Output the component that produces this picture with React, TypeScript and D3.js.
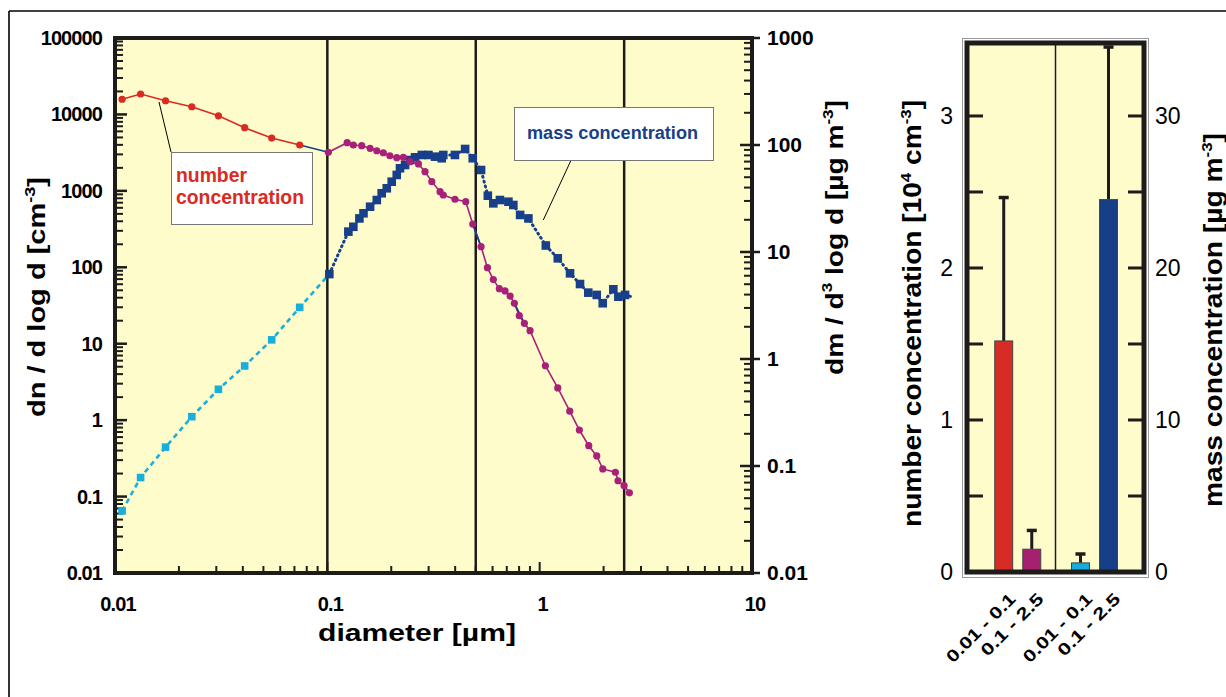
import React from 'react';
import * as d3 from 'd3';

// ---------- data ----------
const redD = [0.0108, 0.0132, 0.0173, 0.023, 0.0307, 0.0408, 0.0547, 0.0741];
const redN = [15800, 18500, 15100, 12600, 9600, 6700, 4900, 3980];

const magD = [0.1011, 0.124, 0.1326, 0.1452, 0.159, 0.171, 0.1835, 0.197, 0.2123, 0.228, 0.2453, 0.2685, 0.2885, 0.3105, 0.3396, 0.3516, 0.399, 0.4487, 0.484, 0.5297, 0.5675, 0.605, 0.6457, 0.687, 0.726, 0.76, 0.8017, 0.8472, 0.9014, 1.064, 1.217, 1.386, 1.538, 1.703, 1.857, 1.982, 2.273, 2.339, 2.498, 2.646];
const magN = [3195, 4270, 3980, 3900, 3600, 3350, 3150, 2880, 2720, 2750, 2410, 2250, 1780, 1320, 975, 883, 776, 721, 368, 186, 98.8, 69, 52.5, 49, 42, 33.8, 23.3, 18.5, 14.8, 5.15, 2.64, 1.31, 0.743, 0.463, 0.34, 0.23, 0.208, 0.161, 0.139, 0.112];

// short overlapping segments of the second (navy) number-size line
const overlapAD = [0.484, 0.5297];
const overlapAN = [368, 186];
const overlapBD = [0.76, 0.8472];
const overlapBN = [33.8, 18.5];

const cyanD = [0.0108, 0.0132, 0.0173, 0.023, 0.0307, 0.0408, 0.0547, 0.0741];
const cyanM = [0.038, 0.078, 0.15, 0.289, 0.521, 0.861, 1.51, 3.04];

const navyD = [0.1022, 0.1256, 0.1326, 0.1416, 0.148, 0.159, 0.171, 0.1803, 0.1905, 0.201, 0.2123, 0.2199, 0.2323, 0.2453, 0.2588, 0.2786, 0.2992, 0.3216, 0.3459, 0.3516, 0.399, 0.4456, 0.484, 0.5297, 0.57, 0.605, 0.65, 0.7126, 0.7516, 0.809, 0.885, 1.069, 1.217, 1.39, 1.549, 1.694, 1.857, 1.982, 2.223, 2.348, 2.524];
const navyM = [6.22, 15.5, 17.2, 20.6, 23, 26.5, 30.6, 35.4, 39.4, 45.4, 52.5, 60.6, 65, 72.4, 76.7, 80.7, 80.7, 77.8, 75.2, 80.7, 80.7, 91.8, 75.2, 58.4, 33.6, 28.5, 30.6, 29.5, 27.5, 22.2, 20.6, 11.5, 8.73, 6.32, 5.02, 4.17, 3.97, 3.32, 4.48, 3.82, 3.97];
const navyTailD = [2.716];
const navyTailM = [3.82];

const xTickValues = [0.01, 0.1, 1, 10];
const nTickValues = [0.01, 0.1, 1, 10, 100, 1000, 10000, 100000];
const mTickValues = [0.01, 0.1, 1, 10, 100, 1000];
const cutoffs = [0.1, 0.5, 2.5];

const barGroups = ['number', 'mass'];
const barRanges = ['0.01 - 0.1', '0.1 - 2.5'];
const barValues = [1.52, 0.15, 0.6, 24.5]; // number: 10^4 cm^-3, mass: µg m^-3
const barErrTop = [2.47, 0.28, 1.25, 34.6];
const barColors = ['#D72B26', '#A6206F', '#19ABDC', '#173F88'];
const barNTicks = [0, 0.5, 1, 1.5, 2, 2.5, 3];
const barMTicks = [0, 5, 10, 15, 20, 25, 30];

// ---------- styles ----------
const BG = '#FFFCCC';
const RED = '#DA2A22';
const MAG = '#A8207A';
const CYAN = '#1AAEDD';
const NAVY = '#173F8A';
const AX = '#1E1B1B';
const FONT = '"Liberation Sans", Arial, sans-serif';

export default function App() {
  const x = d3.scaleLog().domain([0.01, 10]).range([115, 752]);
  const yN = d3.scaleLog().domain([0.01, 100000]).range([573, 38]);
  const yM = d3.scaleLog().domain([0.01, 1000]).range([573, 38]);

  const isMajor = (v: number) => Math.abs(Math.log10(v) - Math.round(Math.log10(v))) < 1e-6;

  const red = redD.map((d, i) => [d, redN[i]] as [number, number]);
  const mag = magD.map((d, i) => [d, magN[i]] as [number, number]);
  const ovA = overlapAD.map((d, i) => [d, overlapAN[i]] as [number, number]);
  const ovB = overlapBD.map((d, i) => [d, overlapBN[i]] as [number, number]);
  const cyan = cyanD.map((d, i) => [d, cyanM[i]] as [number, number]);
  const navy = navyD.map((d, i) => [d, navyM[i]] as [number, number]);
  const navyTail = navyTailD.map((d, i) => [d, navyTailM[i]] as [number, number]);

  const lineN = d3.line<[number, number]>().x(d => x(d[0])).y(d => yN(d[1]));
  const lineM = d3.line<[number, number]>().x(d => x(d[0])).y(d => yM(d[1]));

  // bar chart scales
  const gx = d3.scaleBand<string>().domain(barGroups).range([967, 1144]).paddingOuter(0.153);
  const ix = d3.scaleBand<string>().domain(barRanges).range([16, 62]).paddingInner(0.36);
  const yBN = d3.scaleLinear().domain([0, 3.48]).range([572, 43]);
  const yBM = d3.scaleLinear().domain([0, 34.8]).range([572, 43]);
  const bars = barValues.map((v, i) => {
    const g = barGroups[Math.floor(i / 2)];
    const r = barRanges[i % 2];
    const sc = i < 2 ? yBN : yBM;
    const x0 = (gx(g) as number) + (ix(r) as number);
    return { x0, w: ix.bandwidth(), y: sc(v), y0: sc(0), e: sc(barErrTop[i]), color: barColors[i], label: r, len: r.length > 9 ? 90 : 81 };
  });

  const leftLabel = { fontFamily: FONT, fontWeight: 700, fontSize: 20, letterSpacing: -0.9 } as const;
  const rightLabel = { fontFamily: FONT, fontWeight: 700, fontSize: 21, letterSpacing: 0 } as const;

  return (
    <svg width={1226} height={697} style={{ position: 'absolute', left: 0, top: 0, background: '#fff' }} fontFamily={FONT}>
      {/* outer frame */}
      <line x1={9} y1={11} x2={1226} y2={11} stroke="#000" strokeWidth={1.6} />
      <line x1={9} y1={11} x2={9} y2={697} stroke="#000" strokeWidth={1.6} />

      {/* ===== left chart ===== */}
      <rect x={115} y={38} width={637} height={535} fill={BG} />

      {cutoffs.map(c => (
        <line key={c} x1={x(c)} x2={x(c)} y1={38} y2={573} stroke={AX} strokeWidth={2.5} />
      ))}

      {yN.ticks().map((t, i) => (
        <line key={'ln' + i} x1={115} x2={115 + (isMajor(t) ? 12 : 8)} y1={yN(t)} y2={yN(t)} stroke={AX} strokeWidth={isMajor(t) ? 2.5 : 2} />
      ))}
      {yM.ticks().map((t, i) => (
        <line key={'rm' + i} x1={752 - (isMajor(t) ? 12 : 8)} x2={752 + (isMajor(t) ? 8 : 0)} y1={yM(t)} y2={yM(t)} stroke={AX} strokeWidth={isMajor(t) ? 2.5 : 2} />
      ))}
      {x.ticks().map((t, i) => (
        <line key={'bx' + i} x1={x(t)} x2={x(t)} y1={573} y2={573 - (isMajor(t) ? 11 : 7)} stroke={AX} strokeWidth={2} />
      ))}

      <line x1={113} x2={754} y1={38} y2={38} stroke={AX} strokeWidth={4} />
      <line x1={113} x2={754} y1={573} y2={573} stroke={AX} strokeWidth={4} />
      <line x1={115} x2={115} y1={36} y2={575} stroke={AX} strokeWidth={4} />
      <line x1={752} x2={752} y1={36} y2={575} stroke={AX} strokeWidth={4} />

      {nTickValues.map(t => (
        <text key={'nl' + t} x={102} y={yN(t) + 7} textAnchor="end" {...leftLabel}>{String(t)}</text>
      ))}
      {mTickValues.map(t => (
        <text key={'ml' + t} x={767} y={yM(t) + 7} textAnchor="start" {...rightLabel}>{String(t)}</text>
      ))}
      {xTickValues.map(t => (
        <text key={'xl' + t} x={x(t) + 3} y={611} textAnchor="middle" {...leftLabel}>{String(t)}</text>
      ))}

      {/* axis titles */}
      <text x={318} y={641} fontWeight={700} fontSize={24} textLength={198} lengthAdjust="spacingAndGlyphs">diameter [µm]</text>
      <text transform="translate(45,417) rotate(-90)" fontWeight={700} fontSize={24} textLength={240} lengthAdjust="spacingAndGlyphs">
        dn / d log d [cm<tspan dy={-10} fontSize={15}>-3</tspan><tspan dy={10}>]</tspan>
      </text>
      <text transform="translate(843,375) rotate(-90)" fontWeight={700} fontSize={23} textLength={275} lengthAdjust="spacingAndGlyphs">
        dm / d<tspan dy={-11} fontSize={14}>3</tspan><tspan dy={11}> log d  [µg m</tspan><tspan dy={-10} fontSize={14}>-3</tspan><tspan dy={10}>]</tspan>
      </text>

      {/* cyan dashed mass line */}
      <path d={lineM([...cyan, navy[0]]) as string} fill="none" stroke={CYAN} strokeWidth={2.6} strokeDasharray="5 4" />
      {/* navy dotted mass line */}
      <path d={lineM([...navy, ...navyTail]) as string} fill="none" stroke={NAVY} strokeWidth={3} strokeDasharray="1 4" strokeLinecap="round" />

      {/* number concentration lines */}
      <path d={lineN(red) as string} fill="none" stroke={RED} strokeWidth={1.6} />
      <path d={lineN([red[red.length - 1], mag[0]]) as string} fill="none" stroke={NAVY} strokeWidth={1.6} />
      <path d={lineN(mag) as string} fill="none" stroke={MAG} strokeWidth={1.6} />
      <path d={lineN(ovA) as string} fill="none" stroke={NAVY} strokeWidth={1.8} />
      <path d={lineN(ovB) as string} fill="none" stroke={NAVY} strokeWidth={1.8} />

      {cyan.map((p, i) => (
        <rect key={'cs' + i} x={x(p[0]) - 3.8} y={yM(p[1]) - 3.8} width={7.6} height={7.6} fill={CYAN} />
      ))}
      {navy.map((p, i) => (
        <rect key={'ns' + i} x={x(p[0]) - 4.3} y={yM(p[1]) - 4.3} width={8.6} height={8.6} fill={NAVY} />
      ))}
      {red.map((p, i) => (
        <circle key={'rc' + i} cx={x(p[0])} cy={yN(p[1])} r={3.6} fill={RED} />
      ))}
      {mag.map((p, i) => (
        <circle key={'mc' + i} cx={x(p[0])} cy={yN(p[1])} r={3.6} fill={MAG} />
      ))}

      {/* annotation: number concentration */}
      <line x1={159} y1={102} x2={171} y2={152} stroke="#000" strokeWidth={1} />
      <rect x={171.5} y={152.5} width={141} height={72} fill="#fff" stroke="#777" strokeWidth={1} />
      <text x={176} y={182} fill={RED} fontWeight={700} fontSize={20} textLength={71} lengthAdjust="spacingAndGlyphs">number</text>
      <text x={176} y={204} fill={RED} fontWeight={700} fontSize={20} textLength={128} lengthAdjust="spacingAndGlyphs">concentration</text>

      {/* annotation: mass concentration */}
      <line x1={570.7} y1={161} x2={543.3} y2={220} stroke="#000" strokeWidth={1} />
      <rect x={514.5} y={107.5} width={199} height={53} fill="#fff" stroke="#777" strokeWidth={1} />
      <text x={527} y={139} fill={NAVY} fontWeight={700} fontSize={18} textLength={171} lengthAdjust="spacingAndGlyphs">mass concentration</text>

      {/* ===== right bar chart ===== */}
      <rect x={962.5} y={38.5} width={186} height={539} fill="none" stroke="#999" strokeWidth={1} />
      <rect x={967} y={43} width={177} height={529} fill={BG} />
      <line x1={(gx('mass') as number)} x2={(gx('mass') as number)} y1={43} y2={572} stroke={AX} strokeWidth={1.5} />

      {barNTicks.map(t => (
        <line key={'bnt' + t} x1={967} x2={983} y1={yBN(t)} y2={yBN(t)} stroke={AX} strokeWidth={3} />
      ))}
      {barMTicks.map(t => (
        <line key={'bmt' + t} x1={1128} x2={1144} y1={yBM(t)} y2={yBM(t)} stroke={AX} strokeWidth={3} />
      ))}

      {bars.map((b, i) => (
        <g key={'bar' + i}>
          <line x1={b.x0 + b.w / 2} x2={b.x0 + b.w / 2} y1={b.y} y2={b.e} stroke={AX} strokeWidth={3} />
          <line x1={b.x0 + b.w / 2 - 5} x2={b.x0 + b.w / 2 + 5} y1={b.e + 1} y2={b.e + 1} stroke={AX} strokeWidth={3.5} />
          <rect x={b.x0} y={b.y} width={b.w} height={b.y0 - b.y} fill={b.color} stroke="#444" strokeWidth={1} />
        </g>
      ))}

      <rect x={967} y={43} width={177} height={529} fill="none" stroke={AX} strokeWidth={5} />

      {barNTicks.filter(t => Number.isInteger(t)).map(t => (
        <text key={'bnl' + t} x={953} y={yBN(t) + 8} textAnchor="end" fontSize={23}>{String(t)}</text>
      ))}
      {barMTicks.filter(t => t % 10 === 0).map(t => (
        <text key={'bml' + t} x={1155} y={yBM(t) + 8} textAnchor="start" fontSize={23}>{String(t)}</text>
      ))}

      {bars.map((b, i) => (
        <text key={'bl' + i} transform={`translate(${b.x0 + b.w / 2 + 13},600) rotate(-45)`} textAnchor="end" fontWeight={700} fontSize={17} textLength={b.len} lengthAdjust="spacingAndGlyphs">{b.label}</text>
      ))}

      <text transform="translate(921,527) rotate(-90)" fontWeight={700} fontSize={25} textLength={427} lengthAdjust="spacingAndGlyphs">
        number concentration [10<tspan dy={-10} fontSize={15}>4</tspan><tspan dy={10}> cm</tspan><tspan dy={-10} fontSize={15}>-3</tspan><tspan dy={10}>]</tspan>
      </text>
      <text transform="translate(1222,507) rotate(-90)" fontWeight={700} fontSize={25} textLength={374} lengthAdjust="spacingAndGlyphs">
        mass concentration [µg m<tspan dy={-10} fontSize={15}>-3</tspan><tspan dy={10}>]</tspan>
      </text>
    </svg>
  );
}
